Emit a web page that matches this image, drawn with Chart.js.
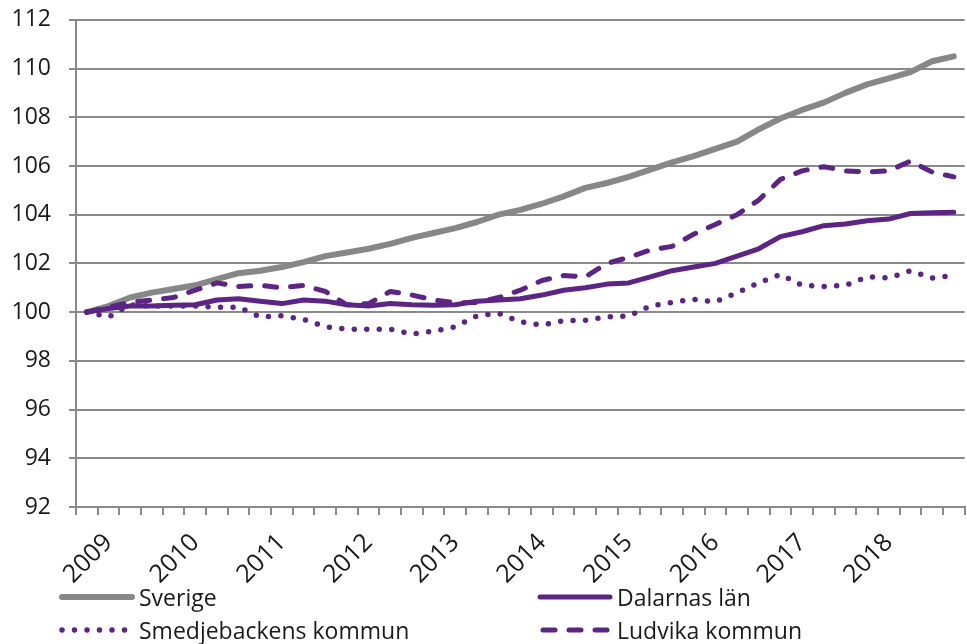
<!DOCTYPE html>
<html lang="sv">
<head>
<meta charset="UTF-8" />
<title>Index</title>
<script src="https://cdn.jsdelivr.net/npm/chart.js"></script>
<style>
  body { margin: 0; background: #fff; font-family: "Open Sans", sans-serif; overflow: hidden; }
  #wrap { position: relative; width: 967px; height: 644px; overflow: hidden; }
  /* canvas a bit larger than the page: Chart.js keeps room for the blank last label */
  #chartBox { position: absolute; left: 0; top: -12px; width: 988px; height: 597px; }
  .item { position: absolute; display: flex; align-items: center; height: 32px; font-size: 23px; color: #1a1a1a; white-space: nowrap; }
  .item svg { margin-right: 3px; }
</style>
</head>
<body>
<div id="wrap">
  <div id="chartBox"><canvas id="myChart"></canvas></div>
  <div id="legend"></div>
</div>
<script>
  // quarterly index, first quarter = 100
  const categories = [
    "", "2009", "", "", "", "2010", "", "", "", "2011", "", "", "",
    "2012", "", "", "", "2013", "", "", "", "2014", "", "", "",
    "2015", "", "", "", "2016", "", "", "", "2017", "", "", "",
    "2018", "", "", ""
  ];

  const sverige = [
    100.0, 100.25, 100.6, 100.8, 100.95, 101.1, 101.35, 101.6, 101.7, 101.85,
    102.05, 102.3, 102.45, 102.6, 102.8, 103.05, 103.25, 103.45, 103.7, 104.0,
    104.2, 104.45, 104.75, 105.1, 105.3, 105.55, 105.85, 106.15, 106.4, 106.7,
    107.0, 107.5, 107.95, 108.3, 108.6, 109.0, 109.35, 109.6, 109.85, 110.3, 110.5
  ];

  const dalarna = [
    100.0, 100.15, 100.25, 100.25, 100.28, 100.3, 100.5, 100.55, 100.45, 100.35,
    100.5, 100.45, 100.3, 100.25, 100.35, 100.3, 100.28, 100.3, 100.45, 100.5,
    100.55, 100.7, 100.9, 101.0, 101.15, 101.2, 101.45, 101.7, 101.85, 102.0,
    102.3, 102.6, 103.1, 103.3, 103.55, 103.62, 103.75, 103.82, 104.05, 104.08, 104.1
  ];

  const smedjebacken = [
    100.0, 99.8, 100.3, 100.25, 100.25, 100.25, 100.2, 100.2, 99.8, 99.85,
    99.7, 99.4, 99.3, 99.3, 99.3, 99.1, 99.22, 99.4, 99.85, 99.95,
    99.6, 99.47, 99.65, 99.67, 99.8, 99.84, 100.25, 100.4, 100.53, 100.42,
    100.8, 101.2, 101.55, 101.1, 101.05, 101.1, 101.45, 101.4, 101.7, 101.4, 101.5
  ];

  const ludvika = [
    100.0, 100.2, 100.4, 100.5, 100.6, 100.9, 101.2, 101.05, 101.1, 101.0,
    101.1, 100.85, 100.3, 100.35, 100.85, 100.7, 100.5, 100.38, 100.4, 100.6,
    100.9, 101.3, 101.5, 101.45, 102.0, 102.25, 102.55, 102.7, 103.2, 103.6,
    104.0, 104.6, 105.45, 105.8, 105.97, 105.8, 105.75, 105.8, 106.2, 105.75, 105.55
  ];

  const gray = "#878787";
  const purple = "#5c2483";
  const axisGray = "#8a8a8a";
  const textColor = "#1a1a1a";
  const canvasHeight = 597;
  const plotBottom = 519; // 507 on the page, the canvas sits 12px up

  const datasets = [
    { label: "Sverige", data: sverige, borderColor: gray, borderWidth: 6, borderDash: [], order: 4 },
    { label: "Dalarnas län", data: dalarna, borderColor: purple, borderWidth: 5, borderDash: [], order: 3 },
    { label: "Smedjebackens kommun", data: smedjebacken, borderColor: purple, borderWidth: 5.5, borderDash: [0, 12.5], order: 2 },
    { label: "Ludvika kommun", data: ludvika, borderColor: purple, borderWidth: 5, borderDash: [12, 14], order: 1 }
  ];
  datasets.forEach(function (d) {
    d.pointRadius = 0;
    d.tension = 0;
    d.fill = false;
    d.borderCapStyle = "round";
    d.borderJoinStyle = "round";
  });

  const ctx = document.getElementById("myChart").getContext("2d");
  const myChart = new Chart(ctx, {
    type: "line",
    data: { labels: categories, datasets: datasets },
    options: {
      responsive: true,
      maintainAspectRatio: false,
      animation: false,
      layout: { padding: { top: 8, right: 0, bottom: 0, left: 0 } },
      plugins: { legend: { display: false }, tooltip: { enabled: false } },
      scales: {
        x: {
          type: "category",
          offset: true,
          grid: { drawOnChartArea: false, drawTicks: true, tickLength: 8, offset: true, color: axisGray, lineWidth: 2 },
          border: { display: true, color: axisGray, width: 2 },
          ticks: {
            autoSkip: false, maxRotation: 45, minRotation: 45, padding: 13,
            color: textColor, font: { family: "Open Sans", size: 25 }
          },
          afterFit: function (scale) { scale.height = canvasHeight - plotBottom; }
        },
        y: {
          min: 92,
          max: 112,
          ticks: { stepSize: 2, padding: 18, color: textColor, font: { family: "Open Sans", size: 23 } },
          grid: { color: axisGray, lineWidth: 2, tickLength: 7 },
          border: { display: true, color: axisGray, width: 2 },
          afterFit: function (scale) { scale.width = 76; }
        }
      }
    }
  });

  // legend below the chart, two columns
  const legendPos = [
    { left: 58, top: 581 }, { left: 536, top: 581 },
    { left: 58, top: 614 }, { left: 536, top: 614 }
  ];
  const legend = document.getElementById("legend");
  myChart.data.datasets.forEach(function (d, i) {
    const item = document.createElement("div");
    item.className = "item";
    item.style.left = legendPos[i].left + "px";
    item.style.top = legendPos[i].top + "px";
    const dash = d.borderDash.length ? d.borderDash.join(" ") : "none";
    const x1 = d.borderDash.length && d.borderDash[0] > 0 ? 7 : 4;
    item.innerHTML =
      '<svg width="78" height="14"><line x1="' + x1 + '" y1="7" x2="74" y2="7" stroke="' + d.borderColor +
      '" stroke-width="' + d.borderWidth + '" stroke-linecap="round" stroke-dasharray="' + dash + '"/></svg>' +
      "<span>" + d.label + "</span>";
    legend.appendChild(item);
  });
</script>
</body>
</html>
